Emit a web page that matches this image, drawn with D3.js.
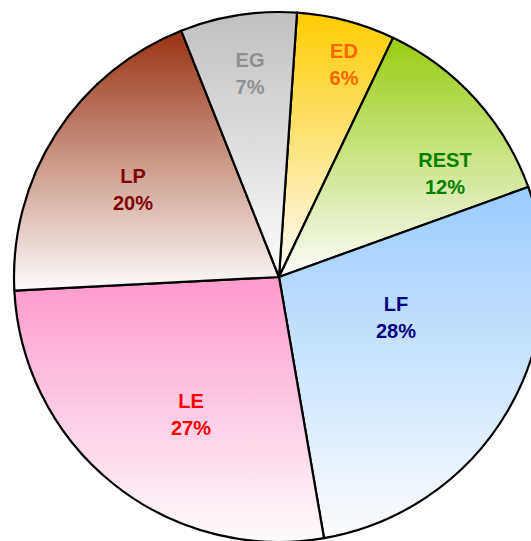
<!DOCTYPE html>
<meta charset="utf-8">
<head>
    <script type="text/javascript" src="https://d3js.org/d3.v7.min.js"></script>
    <style>
        body { margin: 0; background: white; }
    </style>
    <title></title>
</head>
<body>
<script>

    var width = 531
    var height = 541

    // slices, clockwise from the top
    var categories = ["ED", "REST", "LF", "LE", "LP", "EG"]
    var shares = [6, 12.4, 27.8, 26.9, 19.8, 7.1]

    // gradient top colour and label colour per slice
    var fillTop = ["#ffcc00", "#99cc11", "#99ccff", "#ff99cc", "#993311", "#c0c0c0"]
    var textColor = ["#ff6600", "#008000", "#000080", "#ff0000", "#800000", "#909090"]

    // label anchor offsets from the pie centre (layout only)
    var labelOffset = [[65, -219], [166, -110], [117, 34], [-88, 131], [-146, -94], [-29, -210]]

    var cx = 279, cy = 277, radius = 265

    var svg = d3.select("body").append("svg")
        .attr("width", width)
        .attr("height", height)

    var defs = svg.append("defs")
    fillTop.forEach(function (c, i) {
        var g = defs.append("linearGradient")
            .attr("id", "grad" + i)
            .attr("x1", 0).attr("y1", 0).attr("x2", 0).attr("y2", 1)
        g.append("stop").attr("offset", "0%").attr("stop-color", c)
        g.append("stop").attr("offset", "100%").attr("stop-color", "#fcfcfc")
    })

    var start = 3.9 * Math.PI / 180
    var pie = d3.pie().sort(null).startAngle(start).endAngle(start + 2 * Math.PI)
    var arc = d3.arc().innerRadius(0).outerRadius(radius)

    var g = svg.append("g").attr("transform", "translate(" + cx + "," + cy + ")")

    var slices = pie(shares)

    g.selectAll("path")
        .data(slices)
        .enter()
        .append("path")
        .attr("d", arc)
        .style("fill", (d, i) => "url(#grad" + i + ")")
        .style("stroke", "black")
        .style("stroke-width", 2.2)
        .style("stroke-linejoin", "round")

    var labels = g.selectAll("text.lab")
        .data(slices)
        .enter()
        .append("text")
        .attr("class", "lab")
        .attr("text-anchor", "middle")
        .attr("transform", (d, i) => "translate(" + labelOffset[i][0] + "," + labelOffset[i][1] + ")")
        .style("font-family", "'Liberation Sans', Arial, sans-serif")
        .style("font-weight", "bold")
        .style("font-size", "20px")
        .style("fill", (d, i) => textColor[i])

    labels.append("tspan").attr("x", 0).attr("y", 0).text((d, i) => categories[i])
    labels.append("tspan").attr("x", 0).attr("y", 27).text(d => Math.round(d.data) + "%")

</script>
</body>
</html>
